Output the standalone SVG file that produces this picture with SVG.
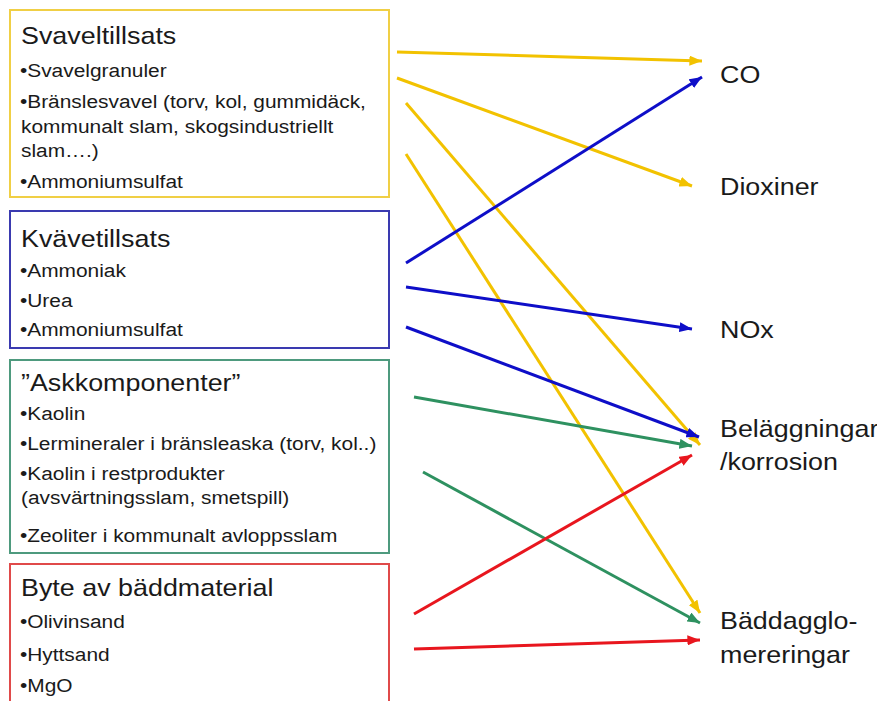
<svg xmlns="http://www.w3.org/2000/svg" width="877" height="701" viewBox="0 0 877 701">
<style>
text{font-family:"Liberation Sans",Arial,sans-serif;fill:#1a1a1a}
.t{font-size:24px}
.b{font-size:19px}
.l{font-size:24px}
.box{fill:#fff;stroke-width:2}
.c{fill:none;stroke-width:3}
</style>
<defs>
<marker id="ay" viewBox="0 0 10 8" refX="10" refY="4" markerWidth="4.2" markerHeight="3.4" orient="auto"><path d="M0,0 L10,4 L0,8 z" fill="#F2C200"/></marker>
<marker id="ab" viewBox="0 0 10 8" refX="10" refY="4" markerWidth="4.2" markerHeight="3.4" orient="auto"><path d="M0,0 L10,4 L0,8 z" fill="#0E0EC8"/></marker>
<marker id="ag" viewBox="0 0 10 8" refX="10" refY="4" markerWidth="4.2" markerHeight="3.4" orient="auto"><path d="M0,0 L10,4 L0,8 z" fill="#2E9160"/></marker>
<marker id="ar" viewBox="0 0 10 8" refX="10" refY="4" markerWidth="4.2" markerHeight="3.4" orient="auto"><path d="M0,0 L10,4 L0,8 z" fill="#E8161E"/></marker>
</defs>
<rect width="877" height="701" fill="#fff"/>

<g id="svaveltillsats">
<rect class="box" x="10" y="10" width="379" height="187" stroke="#F0CF45"/>
<text class="t" transform="translate(21,43.5) scale(1.12,1)">Svaveltillsats</text>
<g transform="translate(21,0) scale(1.1,1)">
<text class="b" x="-1" y="77">•Svavelgranuler</text>
<text class="b" x="-1" y="108">•Bränslesvavel (torv, kol, gummidäck,</text>
<text class="b" x="0" y="133">kommunalt slam, skogsindustriellt</text>
<text class="b" x="0" y="157">slam….)</text>
<text class="b" x="-1" y="188">•Ammoniumsulfat</text>
</g>
</g>

<g id="kvavetillsats">
<rect class="box" x="10" y="211" width="379" height="137" stroke="#3A3AB0"/>
<text class="t" transform="translate(21,246.5) scale(1.12,1)">Kvävetillsats</text>
<g transform="translate(21,0) scale(1.1,1)">
<text class="b" x="-1" y="277">•Ammoniak</text>
<text class="b" x="-1" y="307">•Urea</text>
<text class="b" x="-1" y="336">•Ammoniumsulfat</text>
</g>
</g>

<g id="askkomponenter">
<rect class="box" x="10" y="360" width="379" height="193" stroke="#4E9A7E"/>
<text class="t" transform="translate(21,390.5) scale(1.12,1)">”Askkomponenter”</text>
<g transform="translate(21,0) scale(1.1,1)">
<text class="b" x="-1" y="420">•Kaolin</text>
<text class="b" x="-1" y="450">•Lermineraler i bränsleaska (torv, kol..)</text>
<text class="b" x="-1" y="480">•Kaolin i restprodukter</text>
<text class="b" x="0" y="504">(avsvärtningsslam, smetspill)</text>
<text class="b" x="-1" y="542">•Zeoliter i kommunalt avloppsslam</text>
</g>
</g>

<g id="bytebaddmaterial">
<rect class="box" x="10" y="564" width="379" height="142" stroke="#E04A4A"/>
<text class="t" transform="translate(21,595.5) scale(1.12,1)">Byte av bäddmaterial</text>
<g transform="translate(21,0) scale(1.1,1)">
<text class="b" x="-1" y="628">•Olivinsand</text>
<text class="b" x="-1" y="661">•Hyttsand</text>
<text class="b" x="-1" y="692">•MgO</text>
</g>
</g>

<g id="co"><g transform="translate(720,0) scale(1.12,1)"><text class="l" x="0" y="83.5">CO</text></g></g>
<g id="dioxiner"><g transform="translate(720,0) scale(1.12,1)"><text class="l" x="0" y="195.5">Dioxiner</text></g></g>
<g id="nox"><g transform="translate(720,0) scale(1.12,1)"><text class="l" x="0" y="338.5">NOx</text></g></g>
<g id="belaggningar"><g transform="translate(720,0) scale(1.12,1)"><text class="l" x="0" y="437">Beläggningar</text><text class="l" x="0" y="470.5">/korrosion</text></g></g>
<g id="baddagglomereringar"><g transform="translate(720,0) scale(1.12,1)"><text class="l" x="0" y="629">Bäddagglo-</text><text class="l" x="0" y="663">mereringar</text></g></g>

<g id="connectors">
<line class="c" x1="397" y1="52" x2="702" y2="61" stroke="#F2C200" marker-end="url(#ay)"/>
<line class="c" x1="397" y1="78" x2="692" y2="186" stroke="#F2C200" marker-end="url(#ay)"/>
<line class="c" x1="406" y1="103" x2="700" y2="445" stroke="#F2C200" marker-end="url(#ay)"/>
<line class="c" x1="406" y1="154" x2="700" y2="613" stroke="#F2C200" marker-end="url(#ay)"/>
<line class="c" x1="406" y1="263" x2="702" y2="77" stroke="#0E0EC8" marker-end="url(#ab)"/>
<line class="c" x1="406" y1="287" x2="692" y2="329" stroke="#0E0EC8" marker-end="url(#ab)"/>
<line class="c" x1="406" y1="327" x2="699" y2="437" stroke="#0E0EC8" marker-end="url(#ab)"/>
<line class="c" x1="414" y1="397" x2="692" y2="446" stroke="#2E9160" marker-end="url(#ag)"/>
<line class="c" x1="423" y1="472" x2="700" y2="623" stroke="#2E9160" marker-end="url(#ag)"/>
<line class="c" x1="414" y1="614" x2="692" y2="455" stroke="#E8161E" marker-end="url(#ar)"/>
<line class="c" x1="414" y1="649" x2="700" y2="640" stroke="#E8161E" marker-end="url(#ar)"/>
</g>
</svg>
